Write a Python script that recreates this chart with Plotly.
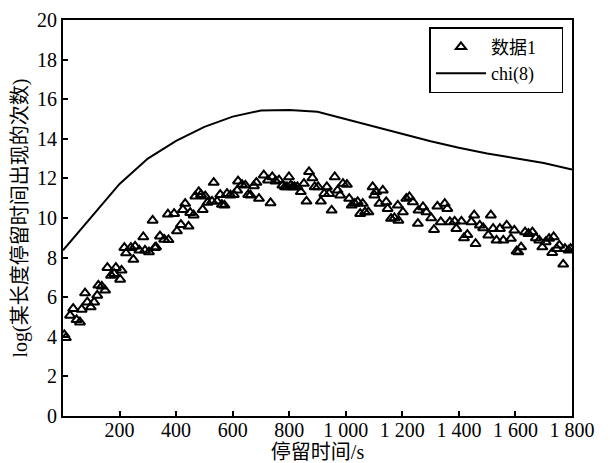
import plotly.graph_objects as go

# Observed data (停留时间 s, log count)
data_x = [5, 10, 25, 36, 48, 60, 66, 78, 86, 98, 110, 121, 125, 137, 149, 157, 170, 181, 187, 202,
          207, 217, 223, 240, 249, 255, 270, 284, 290, 304, 317, 325,
          329, 343, 358, 373, 371, 393, 403, 417, 444, 424, 432, 450, 462, 468, 480, 488, 503, 494,
          511, 533, 527, 545, 556, 562, 571, 580, 592, 604, 616, 619, 633, 645, 655, 663, 675, 684,
          693, 710, 725, 734, 740, 752, 764, 776, 785, 792, 799, 805, 812, 819, 829, 841, 852, 861,
          870, 882, 890, 902, 912, 924, 933, 941, 950, 961, 971, 980, 990, 1004, 1012, 1021, 1032,
          1042, 1051, 1060, 1068, 1080, 1095, 1101, 1107, 1119, 1131, 1143, 1148, 1160, 1172, 1184,
          1186, 1202, 1214, 1225, 1237, 1255, 1257, 1273, 1285, 1302, 1312, 1324, 1336, 1350, 1359,
          1368, 1385, 1391, 1409, 1418, 1430, 1444, 1454, 1459, 1474, 1486, 1504, 1513, 1521, 1533,
          1545, 1557, 1569, 1584, 1596, 1604, 1610, 1620, 1634, 1646, 1660, 1672, 1684, 1695, 1707,
          1719, 1730, 1735, 1746, 1755, 1769, 1775, 1788, 1795]
data_y = [4.10, 3.95, 5.08, 5.42, 4.86, 4.74, 5.38, 6.21, 5.75, 5.50, 5.75, 6.09, 6.60, 6.55, 6.35, 7.49, 7.10, 7.19, 7.49, 6.90,
          7.36, 8.50, 8.23, 8.50, 7.90, 8.57, 8.37, 9.04, 8.37, 8.28, 9.88, 8.50,
          8.53, 9.08, 8.92, 8.90, 10.19, 10.22, 9.34, 9.66, 9.58, 10.42, 10.73, 10.27, 10.14, 11.10, 11.32, 11.18, 11.10, 10.42,
          10.78, 11.79, 10.84, 10.84, 11.18, 10.68, 10.64, 11.23, 11.15, 11.18, 11.40, 11.86, 11.69, 11.65, 11.18, 11.15, 11.62, 11.79,
          10.98, 12.16, 11.91, 10.76, 12.07, 11.86, 11.91, 11.65, 11.57, 11.57, 12.07, 11.65, 11.57, 11.57, 11.57, 11.32, 11.74, 10.84,
          12.33, 12.02, 11.57, 11.57, 10.84, 11.23, 11.57, 11.23, 10.39, 12.07, 11.40, 11.15, 11.74, 11.69, 10.98, 10.64, 10.73,
          10.81, 10.22, 10.73, 10.30, 10.30, 11.57, 11.15, 11.32, 10.73, 11.40, 10.81, 10.47, 9.97, 10.00, 10.64,
          9.88, 10.30, 10.98, 11.06, 10.81, 9.72, 10.39, 10.56, 10.30, 10.00, 9.41, 10.59, 9.80, 10.73, 10.47,
          9.80, 9.83, 9.46, 9.83, 8.99, 9.16, 9.80, 10.14, 8.70, 9.63, 9.50, 9.13, 10.14, 9.46, 8.87,
          9.46, 8.87, 9.63, 8.96, 9.38, 8.32, 8.28, 8.53, 9.29, 9.21, 9.29, 8.99, 8.87, 8.53, 8.79,
          8.96, 8.25, 9.04, 8.45, 8.62, 7.66, 8.45, 8.37, 8.45]

# chi(8) fitted curve
chi_x = [0, 100, 200, 300, 400, 500, 600, 700, 800, 900, 1000, 1100, 1200, 1300, 1400, 1500, 1600, 1700, 1800]
chi_y = [8.37, 10.05, 11.72, 13.00, 13.90, 14.60, 15.12, 15.43, 15.45, 15.37, 15.00, 14.62, 14.25, 13.88, 13.55, 13.26, 13.02, 12.78, 12.45]

x_tickvals = [200, 400, 600, 800, 1000, 1200, 1400, 1600, 1800]
x_ticktext = ["200", "400", "600", "800", "1 000", "1 200", "1 400", "1 600", "1 800"]
y_tickvals = [0, 2, 4, 6, 8, 10, 12, 14, 16, 18, 20]

FONT = "Liberation Serif, Times New Roman, Noto Sans CJK SC, serif"
PAD = "\u00a0" * 5  # widens the legend box like the reference

fig = go.Figure()
fig.add_trace(go.Scatter(
    x=data_x, y=data_y, mode="markers", name="数据1",
    marker=dict(symbol="triangle-up-open", size=9, color="black", line=dict(width=2, color="black")),
))
fig.add_trace(go.Scatter(
    x=chi_x, y=chi_y, mode="lines", name="chi(8)" + PAD,
    line=dict(color="black", width=2),
))

# page body adds an 8px offset; figure sized so that it fits the 610x463 window
fig.update_layout(
    width=602, height=455,
    margin=dict(l=55, r=38, t=12, b=47),
    paper_bgcolor="white", plot_bgcolor="white",
    font=dict(family=FONT, size=20, color="black"),
    showlegend=True,
    legend=dict(
        x=0.72, y=0.982, xanchor="left", yanchor="top",
        bordercolor="black", borderwidth=1.5, bgcolor="white",
        font=dict(family=FONT, size=18, color="black"),
        tracegroupgap=0, itemwidth=50,
    ),
)
fig.update_xaxes(
    range=[0, 1800], tickvals=x_tickvals, ticktext=x_ticktext,
    ticks="inside", ticklen=5, tickwidth=1.5, tickcolor="black",
    showline=True, linecolor="black", linewidth=2, mirror=True,
    showgrid=False, zeroline=False, automargin=False,
    ticklabelstandoff=-5,
    title=dict(text="停留时间/s", font=dict(family=FONT, size=20), standoff=3),
    tickfont=dict(family=FONT, size=20),
)
fig.update_yaxes(
    range=[0, 20], tickvals=y_tickvals,
    ticks="inside", ticklen=5, tickwidth=1.5, tickcolor="black",
    showline=True, linecolor="black", linewidth=2, mirror=True,
    showgrid=False, zeroline=False, automargin=False,
    title=dict(text="log(某长度停留时间出现的次数)", font=dict(family=FONT, size=20), standoff=4),
    tickfont=dict(family=FONT, size=20),
)

fig.write_html("out.html")
